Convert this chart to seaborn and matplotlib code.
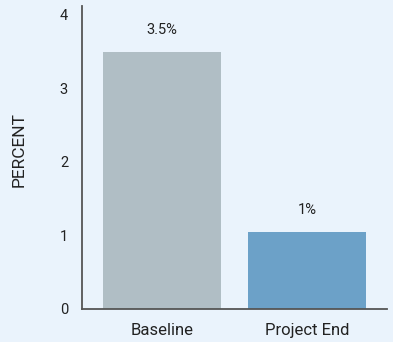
import matplotlib
matplotlib.use("Agg")
import matplotlib.pyplot as plt
import seaborn as sns
import pandas as pd

categories = ["Baseline", "Project End"]
values = [3.5, 1.05]
value_labels = ["3.5%", "1%"]
bar_colors = ["#b0bec5", "#6ca1c8"]
yticks = [0, 1, 2, 3, 4]

bg = "#eaf3fc"
sns.set_theme(style="white")
plt.rcParams["font.family"] = ["Roboto", "DejaVu Sans"]

df = pd.DataFrame({"category": categories, "value": values})

fig = plt.figure(figsize=(3.93, 3.42), dpi=100, facecolor=bg)
ax = fig.add_axes([82/393, (342-309)/342, (387-82)/393, (309-6)/342])
ax.set_facecolor(bg)

sns.barplot(data=df, x="category", y="value", hue="category",
            palette=bar_colors, width=0.81, ax=ax, legend=False,
            saturation=1, edgecolor="none", linewidth=0)

for i, (v, lab) in enumerate(zip(values, value_labels)):
    ax.text(i, v + 0.2, lab, ha="center", va="bottom", fontsize=10.5, color="#222222")

ax.set_xlim(-0.55, 1.55)
ax.set_ylim(0, 4.12)
ax.set_yticks(yticks)
ax.set_yticklabels([str(t) for t in yticks], fontsize=10.5, color="#222222")
ax.tick_params(axis="y", length=0, pad=10)
ax.tick_params(axis="x", length=0, pad=10, labelsize=12, labelcolor="#222222")
ax.set_xlabel("")
ax.set_ylabel("PERCENT", fontsize=12.5, color="#222222")
ax.yaxis.set_label_coords(-0.18, 0.525)

for s in ["top", "right"]:
    ax.spines[s].set_visible(False)
for s in ["left", "bottom"]:
    ax.spines[s].set_color("#555555")
    ax.spines[s].set_linewidth(1.3)

fig.savefig("out.png", dpi=100, facecolor=bg)
